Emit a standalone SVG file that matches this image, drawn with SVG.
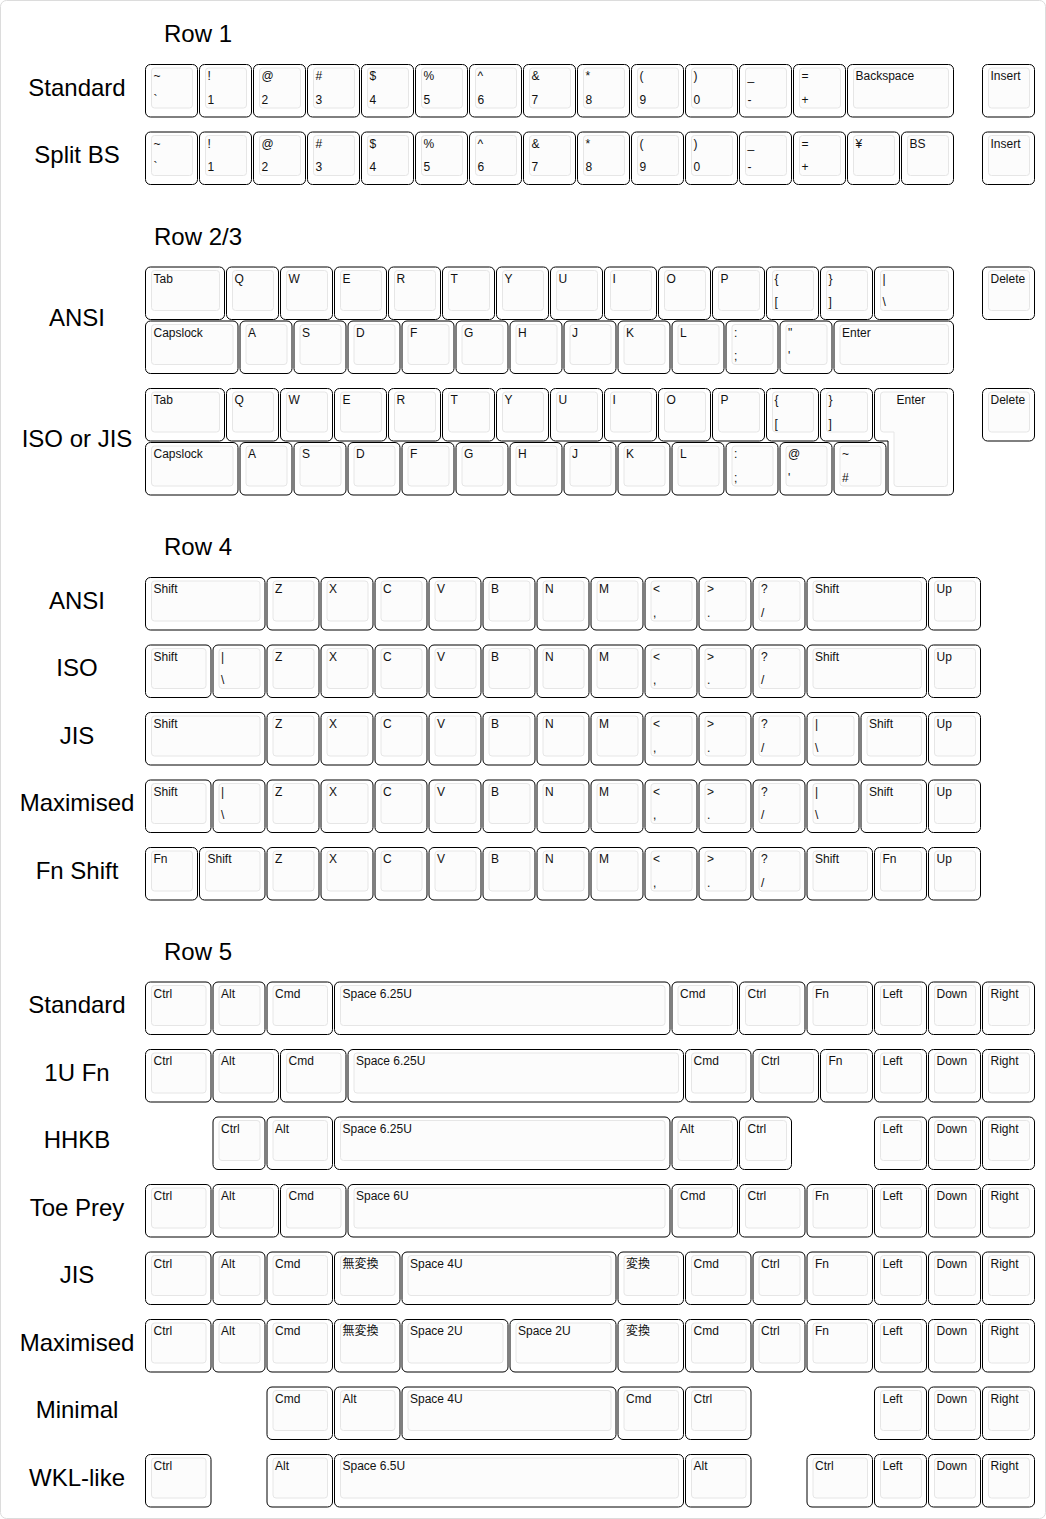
<svg xmlns="http://www.w3.org/2000/svg" xmlns:xlink="http://www.w3.org/1999/xlink" width="1046" height="1519" viewBox="0 0 1046 1519">
<style>
.o{fill:#fff;stroke:#000;stroke-width:1}
.i{fill:#fcfcfc;stroke:#e6e6e6;stroke-width:1}
.keys text{font-family:"Liberation Sans",Arial,Helvetica,"Noto Sans CJK JP",sans-serif;font-size:12px;fill:#111}
.lab{font-family:"Liberation Sans",Arial,Helvetica,sans-serif;font-size:24px;fill:#000;text-anchor:middle}
</style>
<defs>
<g id="k1"><rect class="o" width="52" height="52.5" rx="5"/><rect class="i" x="6" y="3.5" width="41" height="40" rx="3"/></g>
<g id="k125"><rect class="o" width="65.5" height="52.5" rx="5"/><rect class="i" x="6" y="3.5" width="54.5" height="40" rx="3"/></g>
<g id="k15"><rect class="o" width="79" height="52.5" rx="5"/><rect class="i" x="6" y="3.5" width="68" height="40" rx="3"/></g>
<g id="k175"><rect class="o" width="92.5" height="52.5" rx="5"/><rect class="i" x="6" y="3.5" width="81.5" height="40" rx="3"/></g>
<g id="k2"><rect class="o" width="106" height="52.5" rx="5"/><rect class="i" x="6" y="3.5" width="95" height="40" rx="3"/></g>
<g id="k225"><rect class="o" width="119.5" height="52.5" rx="5"/><rect class="i" x="6" y="3.5" width="108.5" height="40" rx="3"/></g>
<g id="k4"><rect class="o" width="214" height="52.5" rx="5"/><rect class="i" x="6" y="3.5" width="203" height="40" rx="3"/></g>
<g id="k6"><rect class="o" width="322" height="52.5" rx="5"/><rect class="i" x="6" y="3.5" width="311" height="40" rx="3"/></g>
<g id="k625"><rect class="o" width="335.5" height="52.5" rx="5"/><rect class="i" x="6" y="3.5" width="324.5" height="40" rx="3"/></g>
<g id="k65"><rect class="o" width="349" height="52.5" rx="5"/><rect class="i" x="6" y="3.5" width="338" height="40" rx="3"/></g>
</defs>
<rect x="0.5" y="0.5" width="1045" height="1518" rx="6" fill="#fff" stroke="#dcdcdc"/>

<g id="titles">
<text class="lab" x="198" y="42">Row 1</text>
<text class="lab" x="198" y="244.5">Row 2/3</text>
<text class="lab" x="198" y="555">Row 4</text>
<text class="lab" x="198" y="959.5">Row 5</text>
</g>
<g id="labels">
<text class="lab" x="77" y="95.5">Standard</text>
<text class="lab" x="77" y="163">Split BS</text>
<text class="lab" x="77" y="325.5">ANSI</text>
<text class="lab" x="77" y="447">ISO or JIS</text>
<text class="lab" x="77" y="608.5">ANSI</text>
<text class="lab" x="77" y="676">ISO</text>
<text class="lab" x="77" y="743.5">JIS</text>
<text class="lab" x="77" y="811">Maximised</text>
<text class="lab" x="77" y="878.5">Fn Shift</text>
<text class="lab" x="77" y="1013">Standard</text>
<text class="lab" x="77" y="1080.5">1U Fn</text>
<text class="lab" x="77" y="1148">HHKB</text>
<text class="lab" x="77" y="1215.5">Toe Prey</text>
<text class="lab" x="77" y="1283">JIS</text>
<text class="lab" x="77" y="1350.5">Maximised</text>
<text class="lab" x="77" y="1418">Minimal</text>
<text class="lab" x="77" y="1485.5">WKL-like</text>
</g>

<g class="keys">
<!-- Row 1 Standard -->
<g id="r1a-00" transform="translate(145.5 64.5)"><use href="#k1"/><text x="8" y="15.5">~</text><text x="8" y="39">`</text></g>
<g id="r1a-01" transform="translate(199.5 64.5)"><use href="#k1"/><text x="8" y="15.5">!</text><text x="8" y="39">1</text></g>
<g id="r1a-02" transform="translate(253.5 64.5)"><use href="#k1"/><text x="8" y="15.5">@</text><text x="8" y="39">2</text></g>
<g id="r1a-03" transform="translate(307.5 64.5)"><use href="#k1"/><text x="8" y="15.5">#</text><text x="8" y="39">3</text></g>
<g id="r1a-04" transform="translate(361.5 64.5)"><use href="#k1"/><text x="8" y="15.5">$</text><text x="8" y="39">4</text></g>
<g id="r1a-05" transform="translate(415.5 64.5)"><use href="#k1"/><text x="8" y="15.5">%</text><text x="8" y="39">5</text></g>
<g id="r1a-06" transform="translate(469.5 64.5)"><use href="#k1"/><text x="8" y="15.5">^</text><text x="8" y="39">6</text></g>
<g id="r1a-07" transform="translate(523.5 64.5)"><use href="#k1"/><text x="8" y="15.5">&amp;</text><text x="8" y="39">7</text></g>
<g id="r1a-08" transform="translate(577.5 64.5)"><use href="#k1"/><text x="8" y="15.5">*</text><text x="8" y="39">8</text></g>
<g id="r1a-09" transform="translate(631.5 64.5)"><use href="#k1"/><text x="8" y="15.5">(</text><text x="8" y="39">9</text></g>
<g id="r1a-10" transform="translate(685.5 64.5)"><use href="#k1"/><text x="8" y="15.5">)</text><text x="8" y="39">0</text></g>
<g id="r1a-11" transform="translate(739.5 64.5)"><use href="#k1"/><text x="8" y="15.5">_</text><text x="8" y="39">-</text></g>
<g id="r1a-12" transform="translate(793.5 64.5)"><use href="#k1"/><text x="8" y="15.5">=</text><text x="8" y="39">+</text></g>
<g id="r1a-13" transform="translate(847.5 64.5)"><use href="#k2"/><text x="8" y="15.5">Backspace</text></g>
<g id="r1a-14" transform="translate(982.5 64.5)"><use href="#k1"/><text x="8" y="15.5">Insert</text></g>
<!-- Row 1 Split BS -->
<g id="r1b-00" transform="translate(145.5 132)"><use href="#k1"/><text x="8" y="15.5">~</text><text x="8" y="39">`</text></g>
<g id="r1b-01" transform="translate(199.5 132)"><use href="#k1"/><text x="8" y="15.5">!</text><text x="8" y="39">1</text></g>
<g id="r1b-02" transform="translate(253.5 132)"><use href="#k1"/><text x="8" y="15.5">@</text><text x="8" y="39">2</text></g>
<g id="r1b-03" transform="translate(307.5 132)"><use href="#k1"/><text x="8" y="15.5">#</text><text x="8" y="39">3</text></g>
<g id="r1b-04" transform="translate(361.5 132)"><use href="#k1"/><text x="8" y="15.5">$</text><text x="8" y="39">4</text></g>
<g id="r1b-05" transform="translate(415.5 132)"><use href="#k1"/><text x="8" y="15.5">%</text><text x="8" y="39">5</text></g>
<g id="r1b-06" transform="translate(469.5 132)"><use href="#k1"/><text x="8" y="15.5">^</text><text x="8" y="39">6</text></g>
<g id="r1b-07" transform="translate(523.5 132)"><use href="#k1"/><text x="8" y="15.5">&amp;</text><text x="8" y="39">7</text></g>
<g id="r1b-08" transform="translate(577.5 132)"><use href="#k1"/><text x="8" y="15.5">*</text><text x="8" y="39">8</text></g>
<g id="r1b-09" transform="translate(631.5 132)"><use href="#k1"/><text x="8" y="15.5">(</text><text x="8" y="39">9</text></g>
<g id="r1b-10" transform="translate(685.5 132)"><use href="#k1"/><text x="8" y="15.5">)</text><text x="8" y="39">0</text></g>
<g id="r1b-11" transform="translate(739.5 132)"><use href="#k1"/><text x="8" y="15.5">_</text><text x="8" y="39">-</text></g>
<g id="r1b-12" transform="translate(793.5 132)"><use href="#k1"/><text x="8" y="15.5">=</text><text x="8" y="39">+</text></g>
<g id="r1b-13" transform="translate(847.5 132)"><use href="#k1"/><text x="8" y="15.5">¥</text></g>
<g id="r1b-14" transform="translate(901.5 132)"><use href="#k1"/><text x="8" y="15.5">BS</text></g>
<g id="r1b-15" transform="translate(982.5 132)"><use href="#k1"/><text x="8" y="15.5">Insert</text></g>
<!-- Row 2 ANSI -->
<g id="r2a-00" transform="translate(145.5 267)"><use href="#k15"/><text x="8" y="15.5">Tab</text></g>
<g id="r2a-01" transform="translate(226.5 267)"><use href="#k1"/><text x="8" y="15.5">Q</text></g>
<g id="r2a-02" transform="translate(280.5 267)"><use href="#k1"/><text x="8" y="15.5">W</text></g>
<g id="r2a-03" transform="translate(334.5 267)"><use href="#k1"/><text x="8" y="15.5">E</text></g>
<g id="r2a-04" transform="translate(388.5 267)"><use href="#k1"/><text x="8" y="15.5">R</text></g>
<g id="r2a-05" transform="translate(442.5 267)"><use href="#k1"/><text x="8" y="15.5">T</text></g>
<g id="r2a-06" transform="translate(496.5 267)"><use href="#k1"/><text x="8" y="15.5">Y</text></g>
<g id="r2a-07" transform="translate(550.5 267)"><use href="#k1"/><text x="8" y="15.5">U</text></g>
<g id="r2a-08" transform="translate(604.5 267)"><use href="#k1"/><text x="8" y="15.5">I</text></g>
<g id="r2a-09" transform="translate(658.5 267)"><use href="#k1"/><text x="8" y="15.5">O</text></g>
<g id="r2a-10" transform="translate(712.5 267)"><use href="#k1"/><text x="8" y="15.5">P</text></g>
<g id="r2a-11" transform="translate(766.5 267)"><use href="#k1"/><text x="8" y="15.5">{</text><text x="8" y="39">[</text></g>
<g id="r2a-12" transform="translate(820.5 267)"><use href="#k1"/><text x="8" y="15.5">}</text><text x="8" y="39">]</text></g>
<g id="r2a-13" transform="translate(874.5 267)"><use href="#k15"/><text x="8" y="15.5">|</text><text x="8" y="39">\</text></g>
<g id="r2a-14" transform="translate(982.5 267)"><use href="#k1"/><text x="8" y="15.5">Delete</text></g>
<!-- Row 3 ANSI -->
<g id="r3a-00" transform="translate(145.5 321)"><use href="#k175"/><text x="8" y="15.5">Capslock</text></g>
<g id="r3a-01" transform="translate(240 321)"><use href="#k1"/><text x="8" y="15.5">A</text></g>
<g id="r3a-02" transform="translate(294 321)"><use href="#k1"/><text x="8" y="15.5">S</text></g>
<g id="r3a-03" transform="translate(348 321)"><use href="#k1"/><text x="8" y="15.5">D</text></g>
<g id="r3a-04" transform="translate(402 321)"><use href="#k1"/><text x="8" y="15.5">F</text></g>
<g id="r3a-05" transform="translate(456 321)"><use href="#k1"/><text x="8" y="15.5">G</text></g>
<g id="r3a-06" transform="translate(510 321)"><use href="#k1"/><text x="8" y="15.5">H</text></g>
<g id="r3a-07" transform="translate(564 321)"><use href="#k1"/><text x="8" y="15.5">J</text></g>
<g id="r3a-08" transform="translate(618 321)"><use href="#k1"/><text x="8" y="15.5">K</text></g>
<g id="r3a-09" transform="translate(672 321)"><use href="#k1"/><text x="8" y="15.5">L</text></g>
<g id="r3a-10" transform="translate(726 321)"><use href="#k1"/><text x="8" y="15.5">:</text><text x="8" y="39">;</text></g>
<g id="r3a-11" transform="translate(780 321)"><use href="#k1"/><text x="8" y="15.5">"</text><text x="8" y="39">'</text></g>
<g id="r3a-12" transform="translate(834 321)"><use href="#k225"/><text x="8" y="15.5">Enter</text></g>
<!-- Row 2 ISO -->
<g id="r2i-00" transform="translate(145.5 388.5)"><use href="#k15"/><text x="8" y="15.5">Tab</text></g>
<g id="r2i-01" transform="translate(226.5 388.5)"><use href="#k1"/><text x="8" y="15.5">Q</text></g>
<g id="r2i-02" transform="translate(280.5 388.5)"><use href="#k1"/><text x="8" y="15.5">W</text></g>
<g id="r2i-03" transform="translate(334.5 388.5)"><use href="#k1"/><text x="8" y="15.5">E</text></g>
<g id="r2i-04" transform="translate(388.5 388.5)"><use href="#k1"/><text x="8" y="15.5">R</text></g>
<g id="r2i-05" transform="translate(442.5 388.5)"><use href="#k1"/><text x="8" y="15.5">T</text></g>
<g id="r2i-06" transform="translate(496.5 388.5)"><use href="#k1"/><text x="8" y="15.5">Y</text></g>
<g id="r2i-07" transform="translate(550.5 388.5)"><use href="#k1"/><text x="8" y="15.5">U</text></g>
<g id="r2i-08" transform="translate(604.5 388.5)"><use href="#k1"/><text x="8" y="15.5">I</text></g>
<g id="r2i-09" transform="translate(658.5 388.5)"><use href="#k1"/><text x="8" y="15.5">O</text></g>
<g id="r2i-10" transform="translate(712.5 388.5)"><use href="#k1"/><text x="8" y="15.5">P</text></g>
<g id="r2i-11" transform="translate(766.5 388.5)"><use href="#k1"/><text x="8" y="15.5">{</text><text x="8" y="39">[</text></g>
<g id="r2i-12" transform="translate(820.5 388.5)"><use href="#k1"/><text x="8" y="15.5">}</text><text x="8" y="39">]</text></g>
<g id="r2i-enter"><path class="o" d="M879.5,388.5 H948.5 Q953.5,388.5 953.5,393.5 V490 Q953.5,495 948.5,495 H893 Q888,495 888,490 V441 H879.5 Q874.5,441 874.5,436 V393.5 Q874.5,388.5 879.5,388.5 Z"/><path class="i" d="M883.5,392 H944.5 Q947.5,392 947.5,395 V483.5 Q947.5,486.5 944.5,486.5 H897 Q894,486.5 894,483.5 V432 H883.5 Q880.5,432 880.5,429 V395 Q880.5,392 883.5,392 Z"/><text x="896.5" y="404">Enter</text></g>
<g id="r2i-14" transform="translate(982.5 388.5)"><use href="#k1"/><text x="8" y="15.5">Delete</text></g>
<!-- Row 3 ISO -->
<g id="r3i-00" transform="translate(145.5 442.5)"><use href="#k175"/><text x="8" y="15.5">Capslock</text></g>
<g id="r3i-01" transform="translate(240 442.5)"><use href="#k1"/><text x="8" y="15.5">A</text></g>
<g id="r3i-02" transform="translate(294 442.5)"><use href="#k1"/><text x="8" y="15.5">S</text></g>
<g id="r3i-03" transform="translate(348 442.5)"><use href="#k1"/><text x="8" y="15.5">D</text></g>
<g id="r3i-04" transform="translate(402 442.5)"><use href="#k1"/><text x="8" y="15.5">F</text></g>
<g id="r3i-05" transform="translate(456 442.5)"><use href="#k1"/><text x="8" y="15.5">G</text></g>
<g id="r3i-06" transform="translate(510 442.5)"><use href="#k1"/><text x="8" y="15.5">H</text></g>
<g id="r3i-07" transform="translate(564 442.5)"><use href="#k1"/><text x="8" y="15.5">J</text></g>
<g id="r3i-08" transform="translate(618 442.5)"><use href="#k1"/><text x="8" y="15.5">K</text></g>
<g id="r3i-09" transform="translate(672 442.5)"><use href="#k1"/><text x="8" y="15.5">L</text></g>
<g id="r3i-10" transform="translate(726 442.5)"><use href="#k1"/><text x="8" y="15.5">:</text><text x="8" y="39">;</text></g>
<g id="r3i-11" transform="translate(780 442.5)"><use href="#k1"/><text x="8" y="15.5">@</text><text x="8" y="39">'</text></g>
<g id="r3i-12" transform="translate(834 442.5)"><use href="#k1"/><text x="8" y="15.5">~</text><text x="8" y="39">#</text></g>
<!-- Row 4 ANSI -->
<g id="r4a-00" transform="translate(145.5 577.5)"><use href="#k225"/><text x="8" y="15.5">Shift</text></g>
<g id="r4a-01" transform="translate(267 577.5)"><use href="#k1"/><text x="8" y="15.5">Z</text></g>
<g id="r4a-02" transform="translate(321 577.5)"><use href="#k1"/><text x="8" y="15.5">X</text></g>
<g id="r4a-03" transform="translate(375 577.5)"><use href="#k1"/><text x="8" y="15.5">C</text></g>
<g id="r4a-04" transform="translate(429 577.5)"><use href="#k1"/><text x="8" y="15.5">V</text></g>
<g id="r4a-05" transform="translate(483 577.5)"><use href="#k1"/><text x="8" y="15.5">B</text></g>
<g id="r4a-06" transform="translate(537 577.5)"><use href="#k1"/><text x="8" y="15.5">N</text></g>
<g id="r4a-07" transform="translate(591 577.5)"><use href="#k1"/><text x="8" y="15.5">M</text></g>
<g id="r4a-08" transform="translate(645 577.5)"><use href="#k1"/><text x="8" y="15.5">&lt;</text><text x="8" y="39">,</text></g>
<g id="r4a-09" transform="translate(699 577.5)"><use href="#k1"/><text x="8" y="15.5">&gt;</text><text x="8" y="39">.</text></g>
<g id="r4a-10" transform="translate(753 577.5)"><use href="#k1"/><text x="8" y="15.5">?</text><text x="8" y="39">/</text></g>
<g id="r4a-11" transform="translate(807 577.5)"><use href="#k225"/><text x="8" y="15.5">Shift</text></g>
<g id="r4a-12" transform="translate(928.5 577.5)"><use href="#k1"/><text x="8" y="15.5">Up</text></g>
<!-- Row 4 ISO -->
<g id="r4i-00" transform="translate(145.5 645)"><use href="#k125"/><text x="8" y="15.5">Shift</text></g>
<g id="r4i-01" transform="translate(213 645)"><use href="#k1"/><text x="8" y="15.5">|</text><text x="8" y="39">\</text></g>
<g id="r4i-02" transform="translate(267 645)"><use href="#k1"/><text x="8" y="15.5">Z</text></g>
<g id="r4i-03" transform="translate(321 645)"><use href="#k1"/><text x="8" y="15.5">X</text></g>
<g id="r4i-04" transform="translate(375 645)"><use href="#k1"/><text x="8" y="15.5">C</text></g>
<g id="r4i-05" transform="translate(429 645)"><use href="#k1"/><text x="8" y="15.5">V</text></g>
<g id="r4i-06" transform="translate(483 645)"><use href="#k1"/><text x="8" y="15.5">B</text></g>
<g id="r4i-07" transform="translate(537 645)"><use href="#k1"/><text x="8" y="15.5">N</text></g>
<g id="r4i-08" transform="translate(591 645)"><use href="#k1"/><text x="8" y="15.5">M</text></g>
<g id="r4i-09" transform="translate(645 645)"><use href="#k1"/><text x="8" y="15.5">&lt;</text><text x="8" y="39">,</text></g>
<g id="r4i-10" transform="translate(699 645)"><use href="#k1"/><text x="8" y="15.5">&gt;</text><text x="8" y="39">.</text></g>
<g id="r4i-11" transform="translate(753 645)"><use href="#k1"/><text x="8" y="15.5">?</text><text x="8" y="39">/</text></g>
<g id="r4i-12" transform="translate(807 645)"><use href="#k225"/><text x="8" y="15.5">Shift</text></g>
<g id="r4i-13" transform="translate(928.5 645)"><use href="#k1"/><text x="8" y="15.5">Up</text></g>
<!-- Row 4 JIS -->
<g id="r4j-00" transform="translate(145.5 712.5)"><use href="#k225"/><text x="8" y="15.5">Shift</text></g>
<g id="r4j-01" transform="translate(267 712.5)"><use href="#k1"/><text x="8" y="15.5">Z</text></g>
<g id="r4j-02" transform="translate(321 712.5)"><use href="#k1"/><text x="8" y="15.5">X</text></g>
<g id="r4j-03" transform="translate(375 712.5)"><use href="#k1"/><text x="8" y="15.5">C</text></g>
<g id="r4j-04" transform="translate(429 712.5)"><use href="#k1"/><text x="8" y="15.5">V</text></g>
<g id="r4j-05" transform="translate(483 712.5)"><use href="#k1"/><text x="8" y="15.5">B</text></g>
<g id="r4j-06" transform="translate(537 712.5)"><use href="#k1"/><text x="8" y="15.5">N</text></g>
<g id="r4j-07" transform="translate(591 712.5)"><use href="#k1"/><text x="8" y="15.5">M</text></g>
<g id="r4j-08" transform="translate(645 712.5)"><use href="#k1"/><text x="8" y="15.5">&lt;</text><text x="8" y="39">,</text></g>
<g id="r4j-09" transform="translate(699 712.5)"><use href="#k1"/><text x="8" y="15.5">&gt;</text><text x="8" y="39">.</text></g>
<g id="r4j-10" transform="translate(753 712.5)"><use href="#k1"/><text x="8" y="15.5">?</text><text x="8" y="39">/</text></g>
<g id="r4j-11" transform="translate(807 712.5)"><use href="#k1"/><text x="8" y="15.5">|</text><text x="8" y="39">\</text></g>
<g id="r4j-12" transform="translate(861 712.5)"><use href="#k125"/><text x="8" y="15.5">Shift</text></g>
<g id="r4j-13" transform="translate(928.5 712.5)"><use href="#k1"/><text x="8" y="15.5">Up</text></g>
<!-- Row 4 Maximised -->
<g id="r4m-00" transform="translate(145.5 780)"><use href="#k125"/><text x="8" y="15.5">Shift</text></g>
<g id="r4m-01" transform="translate(213 780)"><use href="#k1"/><text x="8" y="15.5">|</text><text x="8" y="39">\</text></g>
<g id="r4m-02" transform="translate(267 780)"><use href="#k1"/><text x="8" y="15.5">Z</text></g>
<g id="r4m-03" transform="translate(321 780)"><use href="#k1"/><text x="8" y="15.5">X</text></g>
<g id="r4m-04" transform="translate(375 780)"><use href="#k1"/><text x="8" y="15.5">C</text></g>
<g id="r4m-05" transform="translate(429 780)"><use href="#k1"/><text x="8" y="15.5">V</text></g>
<g id="r4m-06" transform="translate(483 780)"><use href="#k1"/><text x="8" y="15.5">B</text></g>
<g id="r4m-07" transform="translate(537 780)"><use href="#k1"/><text x="8" y="15.5">N</text></g>
<g id="r4m-08" transform="translate(591 780)"><use href="#k1"/><text x="8" y="15.5">M</text></g>
<g id="r4m-09" transform="translate(645 780)"><use href="#k1"/><text x="8" y="15.5">&lt;</text><text x="8" y="39">,</text></g>
<g id="r4m-10" transform="translate(699 780)"><use href="#k1"/><text x="8" y="15.5">&gt;</text><text x="8" y="39">.</text></g>
<g id="r4m-11" transform="translate(753 780)"><use href="#k1"/><text x="8" y="15.5">?</text><text x="8" y="39">/</text></g>
<g id="r4m-12" transform="translate(807 780)"><use href="#k1"/><text x="8" y="15.5">|</text><text x="8" y="39">\</text></g>
<g id="r4m-13" transform="translate(861 780)"><use href="#k125"/><text x="8" y="15.5">Shift</text></g>
<g id="r4m-14" transform="translate(928.5 780)"><use href="#k1"/><text x="8" y="15.5">Up</text></g>
<!-- Row 4 Fn Shift -->
<g id="r4f-00" transform="translate(145.5 847.5)"><use href="#k1"/><text x="8" y="15.5">Fn</text></g>
<g id="r4f-01" transform="translate(199.5 847.5)"><use href="#k125"/><text x="8" y="15.5">Shift</text></g>
<g id="r4f-02" transform="translate(267 847.5)"><use href="#k1"/><text x="8" y="15.5">Z</text></g>
<g id="r4f-03" transform="translate(321 847.5)"><use href="#k1"/><text x="8" y="15.5">X</text></g>
<g id="r4f-04" transform="translate(375 847.5)"><use href="#k1"/><text x="8" y="15.5">C</text></g>
<g id="r4f-05" transform="translate(429 847.5)"><use href="#k1"/><text x="8" y="15.5">V</text></g>
<g id="r4f-06" transform="translate(483 847.5)"><use href="#k1"/><text x="8" y="15.5">B</text></g>
<g id="r4f-07" transform="translate(537 847.5)"><use href="#k1"/><text x="8" y="15.5">N</text></g>
<g id="r4f-08" transform="translate(591 847.5)"><use href="#k1"/><text x="8" y="15.5">M</text></g>
<g id="r4f-09" transform="translate(645 847.5)"><use href="#k1"/><text x="8" y="15.5">&lt;</text><text x="8" y="39">,</text></g>
<g id="r4f-10" transform="translate(699 847.5)"><use href="#k1"/><text x="8" y="15.5">&gt;</text><text x="8" y="39">.</text></g>
<g id="r4f-11" transform="translate(753 847.5)"><use href="#k1"/><text x="8" y="15.5">?</text><text x="8" y="39">/</text></g>
<g id="r4f-12" transform="translate(807 847.5)"><use href="#k125"/><text x="8" y="15.5">Shift</text></g>
<g id="r4f-13" transform="translate(874.5 847.5)"><use href="#k1"/><text x="8" y="15.5">Fn</text></g>
<g id="r4f-14" transform="translate(928.5 847.5)"><use href="#k1"/><text x="8" y="15.5">Up</text></g>
<!-- Row 5 Standard -->
<g id="r5s-00" transform="translate(145.5 982)"><use href="#k125"/><text x="8" y="15.5">Ctrl</text></g>
<g id="r5s-01" transform="translate(213 982)"><use href="#k1"/><text x="8" y="15.5">Alt</text></g>
<g id="r5s-02" transform="translate(267 982)"><use href="#k125"/><text x="8" y="15.5">Cmd</text></g>
<g id="r5s-03" transform="translate(334.5 982)"><use href="#k625"/><text x="8" y="15.5">Space 6.25U</text></g>
<g id="r5s-04" transform="translate(672 982)"><use href="#k125"/><text x="8" y="15.5">Cmd</text></g>
<g id="r5s-05" transform="translate(739.5 982)"><use href="#k125"/><text x="8" y="15.5">Ctrl</text></g>
<g id="r5s-06" transform="translate(807 982)"><use href="#k125"/><text x="8" y="15.5">Fn</text></g>
<g id="r5s-07" transform="translate(874.5 982)"><use href="#k1"/><text x="8" y="15.5">Left</text></g>
<g id="r5s-08" transform="translate(928.5 982)"><use href="#k1"/><text x="8" y="15.5">Down</text></g>
<g id="r5s-09" transform="translate(982.5 982)"><use href="#k1"/><text x="8" y="15.5">Right</text></g>
<!-- Row 5 1U Fn -->
<g id="r5u-00" transform="translate(145.5 1049.5)"><use href="#k125"/><text x="8" y="15.5">Ctrl</text></g>
<g id="r5u-01" transform="translate(213 1049.5)"><use href="#k125"/><text x="8" y="15.5">Alt</text></g>
<g id="r5u-02" transform="translate(280.5 1049.5)"><use href="#k125"/><text x="8" y="15.5">Cmd</text></g>
<g id="r5u-03" transform="translate(348 1049.5)"><use href="#k625"/><text x="8" y="15.5">Space 6.25U</text></g>
<g id="r5u-04" transform="translate(685.5 1049.5)"><use href="#k125"/><text x="8" y="15.5">Cmd</text></g>
<g id="r5u-05" transform="translate(753 1049.5)"><use href="#k125"/><text x="8" y="15.5">Ctrl</text></g>
<g id="r5u-06" transform="translate(820.5 1049.5)"><use href="#k1"/><text x="8" y="15.5">Fn</text></g>
<g id="r5u-07" transform="translate(874.5 1049.5)"><use href="#k1"/><text x="8" y="15.5">Left</text></g>
<g id="r5u-08" transform="translate(928.5 1049.5)"><use href="#k1"/><text x="8" y="15.5">Down</text></g>
<g id="r5u-09" transform="translate(982.5 1049.5)"><use href="#k1"/><text x="8" y="15.5">Right</text></g>
<!-- Row 5 HHKB -->
<g id="r5h-00" transform="translate(213 1117)"><use href="#k1"/><text x="8" y="15.5">Ctrl</text></g>
<g id="r5h-01" transform="translate(267 1117)"><use href="#k125"/><text x="8" y="15.5">Alt</text></g>
<g id="r5h-02" transform="translate(334.5 1117)"><use href="#k625"/><text x="8" y="15.5">Space 6.25U</text></g>
<g id="r5h-03" transform="translate(672 1117)"><use href="#k125"/><text x="8" y="15.5">Alt</text></g>
<g id="r5h-04" transform="translate(739.5 1117)"><use href="#k1"/><text x="8" y="15.5">Ctrl</text></g>
<g id="r5h-05" transform="translate(874.5 1117)"><use href="#k1"/><text x="8" y="15.5">Left</text></g>
<g id="r5h-06" transform="translate(928.5 1117)"><use href="#k1"/><text x="8" y="15.5">Down</text></g>
<g id="r5h-07" transform="translate(982.5 1117)"><use href="#k1"/><text x="8" y="15.5">Right</text></g>
<!-- Row 5 Toe Prey -->
<g id="r5t-00" transform="translate(145.5 1184.5)"><use href="#k125"/><text x="8" y="15.5">Ctrl</text></g>
<g id="r5t-01" transform="translate(213 1184.5)"><use href="#k125"/><text x="8" y="15.5">Alt</text></g>
<g id="r5t-02" transform="translate(280.5 1184.5)"><use href="#k125"/><text x="8" y="15.5">Cmd</text></g>
<g id="r5t-03" transform="translate(348 1184.5)"><use href="#k6"/><text x="8" y="15.5">Space 6U</text></g>
<g id="r5t-04" transform="translate(672 1184.5)"><use href="#k125"/><text x="8" y="15.5">Cmd</text></g>
<g id="r5t-05" transform="translate(739.5 1184.5)"><use href="#k125"/><text x="8" y="15.5">Ctrl</text></g>
<g id="r5t-06" transform="translate(807 1184.5)"><use href="#k125"/><text x="8" y="15.5">Fn</text></g>
<g id="r5t-07" transform="translate(874.5 1184.5)"><use href="#k1"/><text x="8" y="15.5">Left</text></g>
<g id="r5t-08" transform="translate(928.5 1184.5)"><use href="#k1"/><text x="8" y="15.5">Down</text></g>
<g id="r5t-09" transform="translate(982.5 1184.5)"><use href="#k1"/><text x="8" y="15.5">Right</text></g>
<!-- Row 5 JIS -->
<g id="r5j-00" transform="translate(145.5 1252)"><use href="#k125"/><text x="8" y="15.5">Ctrl</text></g>
<g id="r5j-01" transform="translate(213 1252)"><use href="#k1"/><text x="8" y="15.5">Alt</text></g>
<g id="r5j-02" transform="translate(267 1252)"><use href="#k125"/><text x="8" y="15.5">Cmd</text></g>
<g id="r5j-03" transform="translate(334.5 1252)"><use href="#k125"/><text x="8" y="15.5">無変換</text></g>
<g id="r5j-04" transform="translate(402 1252)"><use href="#k4"/><text x="8" y="15.5">Space 4U</text></g>
<g id="r5j-05" transform="translate(618 1252)"><use href="#k125"/><text x="8" y="15.5">変換</text></g>
<g id="r5j-06" transform="translate(685.5 1252)"><use href="#k125"/><text x="8" y="15.5">Cmd</text></g>
<g id="r5j-07" transform="translate(753 1252)"><use href="#k1"/><text x="8" y="15.5">Ctrl</text></g>
<g id="r5j-08" transform="translate(807 1252)"><use href="#k125"/><text x="8" y="15.5">Fn</text></g>
<g id="r5j-09" transform="translate(874.5 1252)"><use href="#k1"/><text x="8" y="15.5">Left</text></g>
<g id="r5j-10" transform="translate(928.5 1252)"><use href="#k1"/><text x="8" y="15.5">Down</text></g>
<g id="r5j-11" transform="translate(982.5 1252)"><use href="#k1"/><text x="8" y="15.5">Right</text></g>
<!-- Row 5 Maximised -->
<g id="r5m-00" transform="translate(145.5 1319.5)"><use href="#k125"/><text x="8" y="15.5">Ctrl</text></g>
<g id="r5m-01" transform="translate(213 1319.5)"><use href="#k1"/><text x="8" y="15.5">Alt</text></g>
<g id="r5m-02" transform="translate(267 1319.5)"><use href="#k125"/><text x="8" y="15.5">Cmd</text></g>
<g id="r5m-03" transform="translate(334.5 1319.5)"><use href="#k125"/><text x="8" y="15.5">無変換</text></g>
<g id="r5m-04" transform="translate(402 1319.5)"><use href="#k2"/><text x="8" y="15.5">Space 2U</text></g>
<g id="r5m-05" transform="translate(510 1319.5)"><use href="#k2"/><text x="8" y="15.5">Space 2U</text></g>
<g id="r5m-06" transform="translate(618 1319.5)"><use href="#k125"/><text x="8" y="15.5">変換</text></g>
<g id="r5m-07" transform="translate(685.5 1319.5)"><use href="#k125"/><text x="8" y="15.5">Cmd</text></g>
<g id="r5m-08" transform="translate(753 1319.5)"><use href="#k1"/><text x="8" y="15.5">Ctrl</text></g>
<g id="r5m-09" transform="translate(807 1319.5)"><use href="#k125"/><text x="8" y="15.5">Fn</text></g>
<g id="r5m-10" transform="translate(874.5 1319.5)"><use href="#k1"/><text x="8" y="15.5">Left</text></g>
<g id="r5m-11" transform="translate(928.5 1319.5)"><use href="#k1"/><text x="8" y="15.5">Down</text></g>
<g id="r5m-12" transform="translate(982.5 1319.5)"><use href="#k1"/><text x="8" y="15.5">Right</text></g>
<!-- Row 5 Minimal -->
<g id="r5n-00" transform="translate(267 1387)"><use href="#k125"/><text x="8" y="15.5">Cmd</text></g>
<g id="r5n-01" transform="translate(334.5 1387)"><use href="#k125"/><text x="8" y="15.5">Alt</text></g>
<g id="r5n-02" transform="translate(402 1387)"><use href="#k4"/><text x="8" y="15.5">Space 4U</text></g>
<g id="r5n-03" transform="translate(618 1387)"><use href="#k125"/><text x="8" y="15.5">Cmd</text></g>
<g id="r5n-04" transform="translate(685.5 1387)"><use href="#k125"/><text x="8" y="15.5">Ctrl</text></g>
<g id="r5n-05" transform="translate(874.5 1387)"><use href="#k1"/><text x="8" y="15.5">Left</text></g>
<g id="r5n-06" transform="translate(928.5 1387)"><use href="#k1"/><text x="8" y="15.5">Down</text></g>
<g id="r5n-07" transform="translate(982.5 1387)"><use href="#k1"/><text x="8" y="15.5">Right</text></g>
<!-- Row 5 WKL-like -->
<g id="r5w-00" transform="translate(145.5 1454.5)"><use href="#k125"/><text x="8" y="15.5">Ctrl</text></g>
<g id="r5w-01" transform="translate(267 1454.5)"><use href="#k125"/><text x="8" y="15.5">Alt</text></g>
<g id="r5w-02" transform="translate(334.5 1454.5)"><use href="#k65"/><text x="8" y="15.5">Space 6.5U</text></g>
<g id="r5w-03" transform="translate(685.5 1454.5)"><use href="#k125"/><text x="8" y="15.5">Alt</text></g>
<g id="r5w-04" transform="translate(807 1454.5)"><use href="#k125"/><text x="8" y="15.5">Ctrl</text></g>
<g id="r5w-05" transform="translate(874.5 1454.5)"><use href="#k1"/><text x="8" y="15.5">Left</text></g>
<g id="r5w-06" transform="translate(928.5 1454.5)"><use href="#k1"/><text x="8" y="15.5">Down</text></g>
<g id="r5w-07" transform="translate(982.5 1454.5)"><use href="#k1"/><text x="8" y="15.5">Right</text></g>
</g>
</svg>
